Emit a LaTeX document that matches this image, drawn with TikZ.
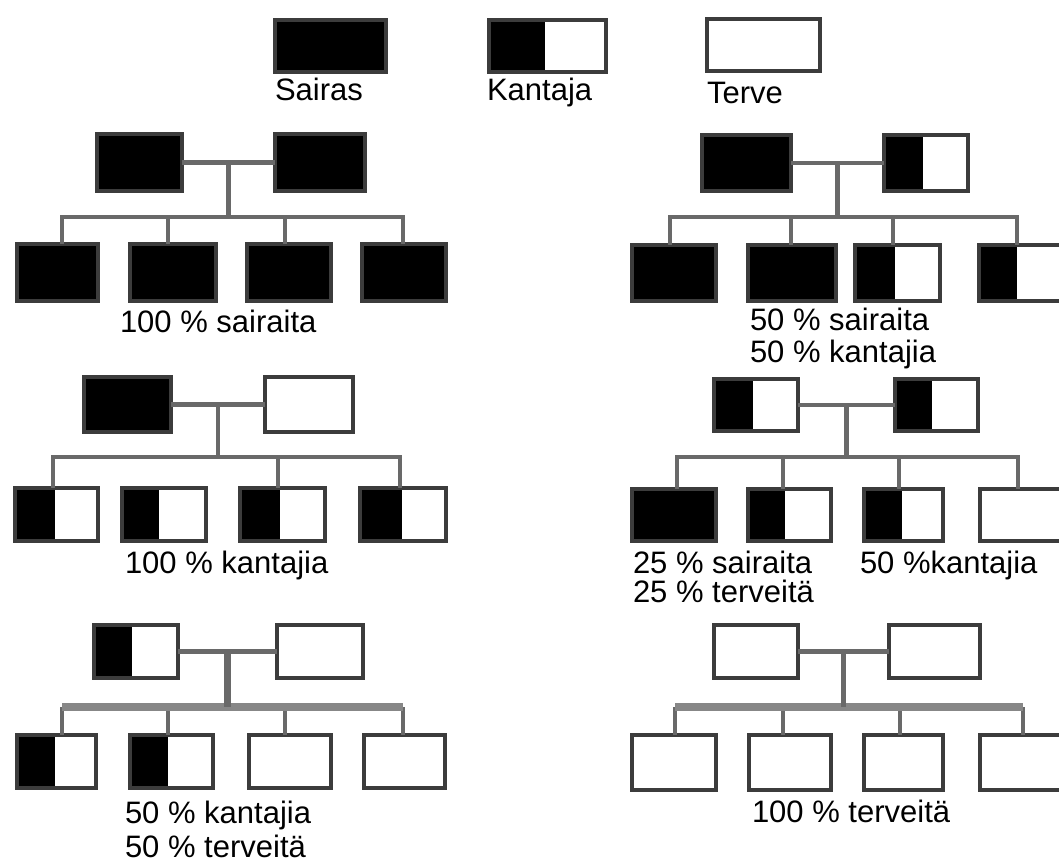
\documentclass[tikz,border=0pt]{standalone}
\usepackage{fontspec}
\setmainfont{Liberation Sans}
\usetikzlibrary{calc}
\definecolor{boxline}{RGB}{60,60,60}
\definecolor{linkgrey}{RGB}{105,105,105}
\definecolor{busgrey}{RGB}{135,135,135}
\tikzset{
  pbox/.style={draw=boxline, line width=4pt, inner sep=0pt, outer sep=0pt, fill=white},
  sick/.style={pbox, fill=black},
  well/.style={pbox},
  carrier/.style={pbox, path picture={\fill[black] (path picture bounding box.south west) rectangle ([xshift=#1]path picture bounding box.north west);}},
  link/.style={draw=linkgrey, line width=4.5pt},
  buslink/.style={draw=busgrey, line width=8pt},
  lbl/.style={anchor=base west, inner sep=0pt, outer sep=0pt, font=\fontsize{31}{35}\selectfont},
}
% name, x1, y1, x2, y2, style
\newcommand\pbx[6]{\node[#6, minimum width={(#4-#2-4)*1pt}, minimum height={(#5-#3-4)*1pt}] (#1) at ({(#2+#4)/2},{(#3+#5)/2}) {};}
\begin{document}
\begin{tikzpicture}[x=1pt,y=-1pt]
\useasboundingbox (0,0) rectangle (1059,862);
\clip (0,0) rectangle (1059,862);
\fill[white] (0,0) rectangle (1059,862);

% ---------- legend ----------
\pbx{Ls}{273}{18}{388}{74}{sick}
\pbx{Lk}{487}{18}{608}{74}{carrier=56pt}
\pbx{Lt}{705}{17}{822}{73}{well}
\node[lbl] (Lstext) at (275,100) {Sairas};
\node[lbl] (Lktext) at (487,100) {Kantaja};
\node[lbl] (Lttext) at (707,103) {Terve};

% ---------- panel A: sairas x sairas ----------
\pbx{Ap1}{95}{132}{184}{193}{sick}
\pbx{Ap2}{273}{132}{367}{193}{sick}
\pbx{Ac1}{15}{242}{100}{303}{sick}
\pbx{Ac2}{128}{242}{218}{303}{sick}
\pbx{Ac3}{245}{242}{333}{303}{sick}
\pbx{Ac4}{360}{242}{448}{303}{sick}
\coordinate (Am) at ($(Ap1.east)!0.5!(Ap2.west)$);
\coordinate (Ab1) at (62,217);
\coordinate (Ab2) at (168,217);
\coordinate (Ab3) at (285,217);
\coordinate (Ab4) at (403,217);
\draw[link] (Ap1.east) -- (Ap2.west);
\draw[link] (Am) -- (Am |- Ab1);
\draw[link] (Ab1 |- Ac1.north) -- (Ab1) -- (Ab4) -- (Ab4 |- Ac4.north);
\draw[link] (Ab2) -- (Ab2 |- Ac2.north);
\draw[link] (Ab3) -- (Ab3 |- Ac3.north);
\node[lbl] (Atext) at (120,332) {100 \% sairaita};

% ---------- panel B: sairas x kantaja ----------
\pbx{Bp1}{700}{133}{793}{193}{sick}
\pbx{Bp2}{882}{133}{970}{193}{carrier=39pt}
\pbx{Bc1}{630}{243}{718}{303}{sick}
\pbx{Bc2}{746}{243}{838}{303}{sick}
\pbx{Bc3}{853}{243}{942}{303}{carrier=40pt}
\pbx{Bc4}{977}{243}{1066}{303}{carrier=38pt}
\coordinate (Bm) at ($(Bp1.east)!0.5!(Bp2.west)$);
\coordinate (Bb1) at (670,217);
\coordinate (Bb2) at (791,217);
\coordinate (Bb3) at (893,217);
\coordinate (Bb4) at (1017,217);
\draw[link] (Bp1.east) -- (Bp2.west);
\draw[link] (Bm) -- (Bm |- Bb1);
\draw[link] (Bb1 |- Bc1.north) -- (Bb1) -- (Bb4) -- (Bb4 |- Bc4.north);
\draw[link] (Bb2) -- (Bb2 |- Bc2.north);
\draw[link] (Bb3) -- (Bb3 |- Bc3.north);
\node[lbl] (Btext1) at (750,330) {50 \% sairaita};
\node[lbl] (Btext2) at (750,362) {50 \% kantajia};

% ---------- panel C: sairas x terve ----------
\pbx{Cp1}{82}{375}{173}{434}{sick}
\pbx{Cp2}{263}{375}{355}{434}{well}
\pbx{Cc1}{13}{486}{100}{543}{carrier=40pt}
\pbx{Cc2}{120}{486}{208}{543}{carrier=37pt}
\pbx{Cc3}{238}{486}{327}{543}{carrier=40pt}
\pbx{Cc4}{358}{486}{448}{543}{carrier=42pt}
\coordinate (Cm) at ($(Cp1.east)!0.5!(Cp2.west)$);
\coordinate (Cb1) at (53,457);
\coordinate (Cb3) at (278,457);
\coordinate (Cb4) at (400,457);
\draw[link] (Cp1.east) -- (Cp2.west);
\draw[link] (Cm) -- (Cm |- Cb1);
\draw[link] (Cb1 |- Cc1.north) -- (Cb1) -- (Cb4) -- (Cb4 |- Cc4.north);
\draw[link] (Cb3) -- (Cb3 |- Cc3.north);
\node[lbl] (Ctext) at (125,573) {100 \% kantajia};

% ---------- panel D: kantaja x kantaja ----------
\pbx{Dp1}{712}{377}{800}{433}{carrier=39pt}
\pbx{Dp2}{893}{377}{980}{433}{carrier=37pt}
\pbx{Dc1}{630}{487}{718}{543}{sick}
\pbx{Dc2}{746}{487}{833}{543}{carrier=37pt}
\pbx{Dc3}{862}{487}{945}{543}{carrier=38pt}
\pbx{Dc4}{978}{487}{1066}{543}{well}
\coordinate (Dm) at ($(Dp1.east)!0.5!(Dp2.west)$);
\coordinate (Db1) at (677,457);
\coordinate (Db2) at (783,457);
\coordinate (Db3) at (899,457);
\coordinate (Db4) at (1018,457);
\draw[link] (Dp1.east) -- (Dp2.west);
\draw[link] (Dm) -- (Dm |- Db1);
\draw[link] (Db1 |- Dc1.north) -- (Db1) -- (Db4) -- (Db4 |- Dc4.north);
\draw[link] (Db2) -- (Db2 |- Dc2.north);
\draw[link] (Db3) -- (Db3 |- Dc3.north);
\node[lbl] (Dtext1) at (633,573) {25 \% sairaita};
\node[lbl] (Dtext2) at (860,573) {50 \%kantajia};
\node[lbl] (Dtext3) at (633,602) {25 \% terveitä};

% ---------- panel E: kantaja x terve ----------
\pbx{Ep1}{92}{623}{180}{680}{carrier=38pt}
\pbx{Ep2}{275}{623}{365}{680}{well}
\pbx{Ec1}{15}{733}{98}{790}{carrier=38pt}
\pbx{Ec2}{128}{733}{215}{790}{carrier=38pt}
\pbx{Ec3}{247}{733}{333}{790}{well}
\pbx{Ec4}{362}{733}{447}{790}{well}
\coordinate (Em) at ($(Ep1.east)!0.5!(Ep2.west)$);
\coordinate (Eb1) at (62,707);
\coordinate (Eb2) at (168,707);
\coordinate (Eb3) at (285,707);
\coordinate (Eb4) at (403,707);
\draw[link] (Ep1.east) -- (Ep2.west);
\draw[link] (Eb1 |- Ec1.north) -- (Eb1);
\draw[link] (Eb4 |- Ec4.north) -- (Eb4);
\draw[link] (Eb2) -- (Eb2 |- Ec2.north);
\draw[link] (Eb3) -- (Eb3 |- Ec3.north);
\draw[buslink] (Eb1) -- (Eb4);
\draw[link, line width=7pt] (Em) -- (Em |- Eb1);
\node[lbl] (Etext1) at (125,823) {50 \% kantajia};
\node[lbl] (Etext2) at (125,857) {50 \% terveitä};

% ---------- panel F: terve x terve ----------
\pbx{Fp1}{712}{623}{800}{680}{well}
\pbx{Fp2}{887}{623}{982}{680}{well}
\pbx{Fc1}{630}{733}{718}{792}{well}
\pbx{Fc2}{747}{733}{833}{792}{well}
\pbx{Fc3}{862}{733}{945}{792}{well}
\pbx{Fc4}{978}{733}{1066}{792}{well}
\coordinate (Fm) at ($(Fp1.east)!0.5!(Fp2.west)$);
\coordinate (Fb1) at (675,707);
\coordinate (Fb2) at (783,707);
\coordinate (Fb3) at (900,707);
\coordinate (Fb4) at (1023,707);
\draw[link] (Fp1.east) -- (Fp2.west);
\draw[link] (Fb1 |- Fc1.north) -- (Fb1);
\draw[link] (Fb4 |- Fc4.north) -- (Fb4);
\draw[link] (Fb2) -- (Fb2 |- Fc2.north);
\draw[link] (Fb3) -- (Fb3 |- Fc3.north);
\draw[buslink] (Fb1) -- (Fb4);
\draw[link] (Fm) -- (Fm |- Fb1);
\node[lbl] (Ftext) at (752,822) {100 \% terveitä};
\end{tikzpicture}
\end{document}
